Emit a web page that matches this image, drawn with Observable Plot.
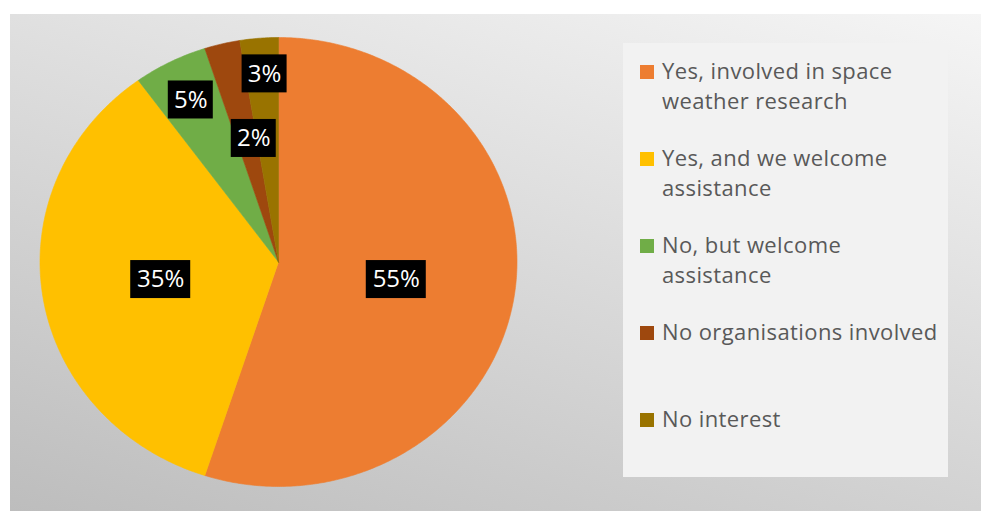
<!DOCTYPE html>
<html><head><meta charset="utf-8">
<script src="https://cdn.jsdelivr.net/npm/d3@7"></script>
<script src="https://cdn.jsdelivr.net/npm/@observablehq/plot@0.6"></script>
<style>
body{margin:0;background:#fff;font-family:"Open Sans",sans-serif;}
#wrap{position:relative;width:981px;height:511px;overflow:hidden;}
#bg{position:absolute;left:10px;top:14px;right:0;bottom:0;background:linear-gradient(197deg,#f5f5f5,#bdbdbd);}
#chart{position:absolute;left:0;top:0;}
#legend{position:absolute;left:623px;top:43px;width:325px;height:434px;background:#f2f2f2;}
.item{position:absolute;left:0;width:325px;}
.sw{position:absolute;left:17px;top:10px;width:14px;height:14px;}
.lbl{position:absolute;left:39px;top:0;white-space:nowrap;font-size:22px;letter-spacing:0.4px;line-height:30px;color:#595959;}
</style></head><body>
<div id="wrap"><div id="bg"></div><div id="chart"></div><div id="legend"></div></div>
<script>
// ---- data ----
const categories = [
  "Yes, involved in space weather research",
  "Yes, and we welcome assistance",
  "No, but welcome assistance",
  "No organisations involved",
  "No interest"
];
const values = [55, 35, 5, 2.4, 2.6];
const colors = ["#ED7D31", "#FFC000", "#70AD47", "#9E480E", "#997300"];

// ---- layout (not data) ----
const labelRadius = [0.5, 0.5, 0.81, 0.56, 0.84];
const labelTurnDeg = [0, 0, 0, 3, 0.7];
const legendWordsOnFirstLine = [4, 4, 3, 3, 2];

const rows = categories.map((name, i) => ({name, value: values[i], color: colors[i], i}));
const arcs = d3.pie().sort(null).value(d => d.value).startAngle(0).endAngle(2 * Math.PI)(rows);

const pts = [];
arcs.forEach(a => {
  const base = {key: a.data.name, color: a.data.color};
  pts.push({...base, x: 0, y: 0});
  const step = Math.PI / 360;
  for (let t = a.startAngle; t < a.endAngle; t += step) pts.push({...base, x: Math.sin(t), y: Math.cos(t)});
  pts.push({...base, x: Math.sin(a.endAngle), y: Math.cos(a.endAngle)});
  pts.push({...base, x: 0, y: 0});
});

const labels = arcs.map(a => {
  const i = a.data.i;
  const m = (a.startAngle + a.endAngle) / 2 + labelTurnDeg[i] * Math.PI / 180;
  const r = labelRadius[i];
  return {x: r * Math.sin(m), y: r * Math.cos(m), text: Math.round(a.data.value) + "%"};
});

const plot = Plot.plot({
  width: 981, height: 511,
  marginTop: 0, marginRight: 0, marginBottom: 0, marginLeft: 0,
  style: {background: "transparent", overflow: "visible"},
  x: {domain: [-1, 1], range: [39.5, 516.5], axis: null},
  y: {domain: [-1, 1], range: [486, 37], axis: null},
  color: {type: "identity"},
  marks: [
    Plot.line(pts, {x: "x", y: "y", z: "key", fill: "color", stroke: "color", strokeWidth: 0.6, curve: "linear"}),
    Plot.rect(labels.filter(d => d.text.length === 3), {x1: "x", x2: "x", y1: "y", y2: "y", fill: "black",
      insetLeft: -30, insetRight: -30, insetTop: -19, insetBottom: -19}),
    Plot.rect(labels.filter(d => d.text.length === 2), {x1: "x", x2: "x", y1: "y", y2: "y", fill: "black",
      insetLeft: -22.5, insetRight: -22.5, insetTop: -19, insetBottom: -19}),
    Plot.text(labels, {x: "x", y: "y", text: "text", fill: "white", fontSize: 24, fontFamily: "Open Sans"})
  ]
});
document.getElementById("chart").appendChild(plot);

// ---- legend ----
const legend = document.getElementById("legend");
const itemTop = 12, itemGap = 87;
categories.forEach((c, i) => {
  const it = document.createElement("div");
  it.className = "item";
  it.style.top = (itemTop + i * itemGap) + "px";
  const sw = document.createElement("div");
  sw.className = "sw";
  sw.style.background = colors[i];
  const lb = document.createElement("div");
  lb.className = "lbl";
  const words = c.split(" ");
  const n = legendWordsOnFirstLine[i];
  lb.appendChild(document.createTextNode(words.slice(0, n).join(" ")));
  if (words.length > n) {
    lb.appendChild(document.createElement("br"));
    lb.appendChild(document.createTextNode(words.slice(n).join(" ")));
  }
  it.appendChild(sw); it.appendChild(lb);
  legend.appendChild(it);
});
</script>
</body></html>
